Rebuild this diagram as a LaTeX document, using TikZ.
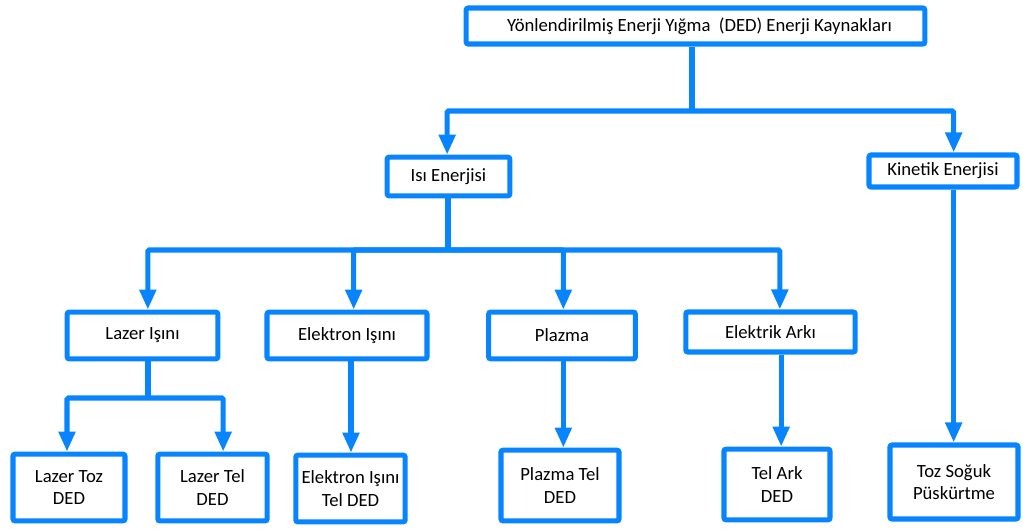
\documentclass[tikz,border=0pt]{standalone}
\usepackage{fontspec}
\setmainfont{Carlito}
\usetikzlibrary{arrows.meta,positioning}
\definecolor{dedblue}{RGB}{8,132,255}

\begin{document}
\begin{tikzpicture}[
    x=0.75pt, y=-0.75pt,
    dedbox/.style={rectangle, draw=dedblue, line width=3.8pt, rounded corners=1.5pt, fill=white, inner sep=0pt, align=center, font=\fontsize{14}{17}\selectfont},
    bus/.style={draw=dedblue, line width=3.8pt, rounded corners=1pt},
    arrow/.style={bus, -{Triangle[length=15pt, width=12pt]}}
]
    \useasboundingbox (0,0) rectangle (1023,529);

    % top level
    \node[dedbox, minimum width=344pt, minimum height=27pt] (ded) at (695.5,26) {\hspace*{6pt}Yönlendirilmiş Enerji Yığma~ (DED) Enerji Kaynakları};
    \node[dedbox, minimum width=92pt, minimum height=29pt] (isi) at (448.5,176.5) {Isı Enerjisi};
    \node[dedbox, minimum width=111pt, minimum height=24pt] (kin) at (943,171) {Kinetik Enerjisi};

    % heat sources
    \node[dedbox, minimum width=113pt, minimum height=35pt] (lazer) at (142.5,335.5) {Lazer Işını};
    \node[dedbox, minimum width=120pt, minimum height=35pt] (elek) at (347,335.5) {Elektron Işını};
    \node[dedbox, minimum width=110pt, minimum height=35pt] (plaz) at (562,335.5) {Plazma};
    \node[dedbox, minimum width=127pt, minimum height=30pt] (ark) at (770.5,332) {Elektrik Arkı};

    % processes
    \node[dedbox, minimum width=84pt, minimum height=50pt] (ltoz) at (69,487.5) {Lazer Toz\\DED};
    \node[dedbox, minimum width=82pt, minimum height=50pt] (ltel) at (212.5,487.5) {Lazer Tel\\DED};
    \node[dedbox, minimum width=82pt, minimum height=50pt] (etel) at (350.5,488.5) {Elektron Işını\\Tel DED};
    \node[dedbox, minimum width=88.5pt, minimum height=53pt] (ptel) at (560,485.5) {Plazma Tel\\DED};
    \node[dedbox, minimum width=79.5pt, minimum height=53pt] (tark) at (777,484.5) {Tel Ark\\DED};
    \node[dedbox, minimum width=96pt, minimum height=55.5pt] (toz) at (954,482) {Toz Soğuk\\Püskürtme};

    % junctions
    \coordinate (j1) at (692,111);
    \coordinate (j2) at (448,250);
    \coordinate (j3) at (148,398);

    \draw[bus] (ded.south -| j1) -- (j1);
    \draw[arrow] (j1) -| ([xshift=-1pt]isi.north);
    \draw[arrow] (j1) -| ([xshift=8pt]kin.north);
    \draw[arrow] ([xshift=8pt]kin.south) -- ([xshift=8pt]kin.south |- toz.north);

    \draw[bus] (isi.south -| j2) -- (j2);
    \draw[arrow] (j2) -| ([xshift=4pt]lazer.north);
    \draw[arrow] (j2) -| ([xshift=5pt]elek.north);
    \draw[arrow] (j2) -| ([xshift=1pt]plaz.north);
    \draw[arrow] (j2) -| ([xshift=7pt]ark.north);

    \draw[bus] (lazer.south -| j3) -- (j3);
    \draw[arrow] (j3) -| ([xshift=-1.5pt]ltoz.north);
    \draw[arrow] (j3) -| ([xshift=8pt]ltel.north);
    \draw[arrow] ([xshift=3pt]elek.south) -- ([xshift=3pt]elek.south |- etel.north);
    \draw[arrow] ([xshift=1pt]plaz.south) -- ([xshift=1pt]plaz.south |- ptel.north);
    \draw[arrow] ([xshift=8pt]ark.south) -- ([xshift=8pt]ark.south |- tark.north);
\end{tikzpicture}
\end{document}
